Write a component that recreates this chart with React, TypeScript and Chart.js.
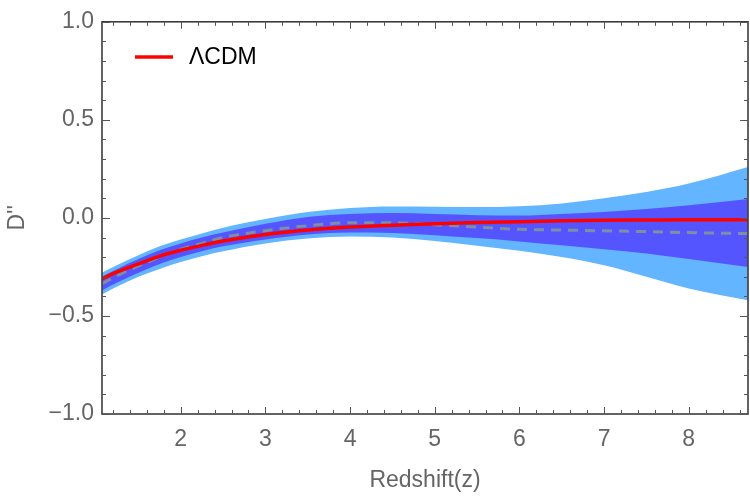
import React, { useEffect, useRef } from "react";
import { Chart, registerables } from "chart.js";

Chart.register(...registerables);

// Redshift sample points shared by every curve
const redshift = [1.07, 1.25, 1.5, 1.75, 2, 2.25, 2.5, 3, 3.5, 4, 4.5, 5, 5.5, 6, 6.5, 7, 7.5, 8, 8.7];

// ΛCDM prediction for D''
const lcdmCurve = [-0.31, -0.275, -0.235, -0.195, -0.165, -0.14, -0.118, -0.085, -0.062, -0.047, -0.037, -0.03, -0.024, -0.019, -0.015, -0.012, -0.011, -0.01, -0.009];

// Reconstructed mean
const meanCurve = [-0.335, -0.295, -0.245, -0.2, -0.16, -0.13, -0.1, -0.065, -0.04, -0.025, -0.025, -0.035, -0.047, -0.058, -0.062, -0.066, -0.07, -0.075, -0.08];

// 1σ band
const sigma1Upper = [-0.3, -0.26, -0.21, -0.165, -0.13, -0.1, -0.075, -0.03, 0.005, 0.02, 0.025, 0.02, 0.014, 0.012, 0.02, 0.03, 0.045, 0.065, 0.097];
const sigma1Lower = [-0.37, -0.33, -0.28, -0.235, -0.2, -0.17, -0.145, -0.11, -0.085, -0.075, -0.077, -0.088, -0.103, -0.12, -0.14, -0.16, -0.182, -0.21, -0.25];

// 2σ band
const sigma2Upper = [-0.28, -0.24, -0.19, -0.145, -0.11, -0.08, -0.05, -0.005, 0.03, 0.05, 0.058, 0.057, 0.055, 0.06, 0.074, 0.1, 0.132, 0.175, 0.26];
const sigma2Lower = [-0.39, -0.35, -0.3, -0.26, -0.225, -0.195, -0.17, -0.13, -0.105, -0.095, -0.1, -0.118, -0.142, -0.168, -0.2, -0.242, -0.3, -0.36, -0.42];

// Axes
const xRange = [1.07, 8.7];
const yRange = [-1, 1];
const xTickValues = [2, 3, 4, 5, 6, 7, 8];
const yTickValues = [-1, -0.5, 0, 0.5, 1];
const xMinorStep = 0.2;
const yMinorStep = 0.1;
const xTitle = "Redshift(z)";
const yTitle = "D''";
const legendLabel = "ΛCDM";

const FONT = "'Liberation Sans', Arial, sans-serif";
const LABEL_GRAY = "#656565";
const FONT_SIZE = 23;

const pts = (ys: number[]) => redshift.map((z, i) => ({ x: z, y: ys[i] }));

const framePlugin = {
  id: "frameTicks",
  afterDraw(chart: any) {
    const { ctx, chartArea, scales } = chart;
    const { left, right, top, bottom } = chartArea;
    const x = scales.x;
    const y = scales.y;
    ctx.save();
    ctx.strokeStyle = "#3c3c3c";
    ctx.lineWidth = 1.6;
    ctx.strokeRect(left, top, right - left, bottom - top);

    ctx.lineWidth = 1;
    ctx.strokeStyle = "#555";
    const seg = (x1: number, y1: number, x2: number, y2: number) => {
      ctx.beginPath();
      ctx.moveTo(x1, y1);
      ctx.lineTo(x2, y2);
      ctx.stroke();
    };
    // x-direction tick marks (bottom and top edges), pointing inward
    for (let k = Math.ceil(x.min / xMinorStep - 1e-9); k * xMinorStep <= x.max + 1e-9; k++) {
      const v = k * xMinorStep;
      const major = Math.abs(v - Math.round(v)) < 1e-6;
      const len = major ? 7 : 4;
      const px = Math.round(x.getPixelForValue(v)) + 0.5;
      seg(px, bottom, px, bottom - len);
      seg(px, top, px, top + len);
    }
    // y-direction tick marks (left and right edges)
    for (let k = Math.ceil(y.min / yMinorStep - 1e-9); k * yMinorStep <= y.max + 1e-9; k++) {
      const v = k * yMinorStep;
      const major = Math.abs(v * 2 - Math.round(v * 2)) < 1e-6;
      const len = major ? 8 : 4;
      const py = Math.round(y.getPixelForValue(v)) + 0.5;
      seg(left, py, left + len, py);
      seg(right, py, right - len, py);
    }

    // Legend inside the plot
    const ds = chart.data.datasets[0];
    const ly = 57;
    ctx.strokeStyle = ds.borderColor;
    ctx.lineWidth = 3.5;
    seg(135, ly, 173, ly);
    ctx.fillStyle = "#000";
    ctx.font = `${FONT_SIZE}px ${FONT}`;
    ctx.textBaseline = "middle";
    ctx.textAlign = "left";
    ctx.fillText(ds.label, 189, ly + 1);
    ctx.restore();
  },
};

export default function App() {
  const canvasRef = useRef<HTMLCanvasElement | null>(null);

  useEffect(() => {
    document.body.style.margin = "0";
    const canvas = canvasRef.current;
    if (!canvas) return;

    const bandLine = {
      borderWidth: 0,
      pointRadius: 0,
      cubicInterpolationMode: "monotone" as const,
    };

    const chart = new Chart(canvas, {
      type: "line",
      data: {
        datasets: [
          {
            label: legendLabel,
            data: pts(lcdmCurve),
            borderColor: "#ff0000",
            borderWidth: 3.5,
            pointRadius: 0,
            fill: false,
            cubicInterpolationMode: "monotone",
            order: 0,
          },
          {
            label: "mean",
            data: pts(meanCurve),
            borderColor: "#7d8ea6",
            borderWidth: 3,
            borderDash: [10, 7],
            pointRadius: 0,
            fill: false,
            cubicInterpolationMode: "monotone",
            order: 1,
          },
          {
            label: "1σ upper",
            data: pts(sigma1Upper),
            ...bandLine,
            backgroundColor: "#5555ff",
            fill: 3,
            order: 2,
          },
          {
            label: "1σ lower",
            data: pts(sigma1Lower),
            ...bandLine,
            fill: false,
            order: 3,
          },
          {
            label: "2σ upper",
            data: pts(sigma2Upper),
            ...bandLine,
            backgroundColor: "#63b5ff",
            fill: 5,
            order: 4,
          },
          {
            label: "2σ lower",
            data: pts(sigma2Lower),
            ...bandLine,
            fill: false,
            order: 5,
          },
        ],
      },
      options: {
        responsive: false,
        animation: false,
        devicePixelRatio: 1,
        layout: { padding: { top: 15, right: 2, left: 0, bottom: 0 } },
        plugins: {
          legend: { display: false },
          tooltip: { enabled: false },
        },
        scales: {
          x: {
            type: "linear",
            min: xRange[0],
            max: xRange[1],
            grid: { display: false, drawTicks: false, tickLength: 0 },
            border: { display: false },
            afterBuildTicks: (scale: any) => {
              scale.ticks = xTickValues.map((v) => ({ value: v }));
            },
            afterFit: (scale: any) => {
              scale.height = 84;
            },
            ticks: {
              padding: 12,
              color: LABEL_GRAY,
              font: { family: FONT, size: FONT_SIZE },
              maxRotation: 0,
              callback: (v: any) => String(v),
            },
            title: {
              display: true,
              text: xTitle,
              color: LABEL_GRAY,
              font: { family: FONT, size: FONT_SIZE },
              padding: { top: 0, bottom: 4 },
            },
          },
          y: {
            type: "linear",
            min: yRange[0],
            max: yRange[1],
            grid: { display: false, drawTicks: false, tickLength: 0 },
            border: { display: false },
            afterBuildTicks: (scale: any) => {
              scale.ticks = yTickValues.map((v) => ({ value: v }));
            },
            afterFit: (scale: any) => {
              scale.width = 102;
            },
            ticks: {
              padding: 8,
              color: LABEL_GRAY,
              font: { family: FONT, size: FONT_SIZE },
              callback: (v: any) => Number(v).toFixed(1).replace("-", "\u2212"),
            },
            title: {
              display: true,
              text: yTitle,
              color: LABEL_GRAY,
              font: { family: FONT, size: FONT_SIZE },
              padding: { top: 4, bottom: 0 },
            },
          },
        },
      },
      plugins: [framePlugin],
    });

    return () => chart.destroy();
  }, []);

  return (
    <div style={{ width: 750, height: 498 }}>
      <canvas ref={canvasRef} width={750} height={498} />
    </div>
  );
}
